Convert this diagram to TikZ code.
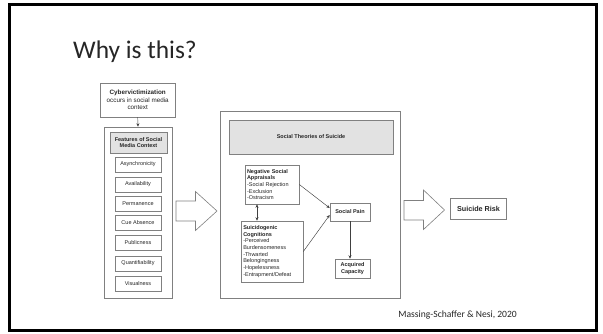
\documentclass[tikz,border=0pt]{standalone}
\usepackage{fontspec}
\setmainfont{Carlito}
\newfontfamily\arialf{Liberation Sans}
\usetikzlibrary{arrows.meta}
\definecolor{boxline}{HTML}{808080}
\definecolor{hdrfill}{HTML}{E2E2E2}
\definecolor{txt}{HTML}{262626}
\definecolor{lnk}{HTML}{404040}
\tikzset{
  box/.style={draw=boxline, line width=0.65pt, fill=white, inner sep=0pt, text=txt, align=center, font=\arialf\fontsize{5.5}{6.7}\selectfont},
  hdr/.style={box, fill=hdrfill},
  item/.style={box, minimum width=46pt, minimum height=15pt},
  lbox/.style={box, align=left, inner sep=0pt},
  conn/.style={draw=lnk, line width=0.45pt, -{Stealth[length=3.4pt,width=3pt]}},
  dconn/.style={draw=lnk, line width=0.45pt, {Stealth[length=3.4pt,width=3pt]}-{Stealth[length=3.4pt,width=3pt]}},
  bigarrow/.style={draw=boxline, line width=0.6pt, fill=white},
}
\begin{document}
\begin{tikzpicture}[x=1pt,y=-1pt]
\useasboundingbox (0,0) rectangle (603,333);
\fill[white] (0,0) rectangle (603,333);
\draw[black, line width=3pt] (9,4) rectangle (596.5,330.5);

% title
\node[anchor=base west, inner sep=0pt, text=txt, font=\fontsize{25.4}{30}\selectfont] (title) at (73,58.3) {Why is this?};

% left column
\node[box, minimum width=74.5pt, minimum height=34pt, font=\arialf\fontsize{6.3}{7.5}\selectfont] (cyber) at (137.7,100) {\textbf{Cybervictimization}\\occurs in social media\\context};
\node[box, minimum width=68pt, minimum height=171pt] (feat) at (138,212.5) {};
\node[hdr, minimum width=57pt, minimum height=21pt] (fhdr) at (138.5,142.5) {\textbf{Features of Social}\\\textbf{Media Context}};
\node[item] (i1) at (138,164.5) {Asynchronicity};
\node[item] (i2) at (138,184.5) {Availability};
\node[item] (i3) at (138,203.5) {Permanence};
\node[item] (i4) at (138,222.5) {Cue Absence};
\node[item] (i5) at (138,242.5) {Publicness};
\node[item] (i6) at (138,263.5) {Quantifiability};
\node[item] (i7) at (138,283.5) {Visualness};
\draw[conn] (cyber.south) -- (feat.north);

% big arrow 1
\draw[bigarrow] (176,201) -- (195.5,201) -- (195.5,191.5) -- (217,211) -- (195.5,230.5) -- (195.5,221) -- (176,221) -- cycle;

% middle box
\node[box, minimum width=180.5pt, minimum height=187pt] (mid) at (310.25,204.5) {};
\node[hdr, minimum width=164pt, minimum height=34pt] (mhdr) at (311,137) {\textbf{Social Theories of Suicide}};
\node[lbox, minimum width=54pt, minimum height=39pt, text width=50pt] (nsa) at (272,184.5) {\textbf{Negative Social}\\\textbf{Appraisals}\\-Social Rejection\\-Exclusion\\-Ostracism};
\node[lbox, minimum width=61.5pt, minimum height=61pt, text width=58pt] (sg) at (272.25,251.5) {\textbf{Suicidogenic}\\\textbf{Cognitions}\\-Perceived\\Burdensomeness\\-Thwarted\\Belongingness\\-Hopelessness\\-Entrapment/Defeat};
\node[box, minimum width=40pt, minimum height=18pt] (sp) at (350,212) {\textbf{Social Pain}};
\node[box, minimum width=35pt, minimum height=19pt] (ac) at (352.5,268.5) {\textbf{Acquired}\\\textbf{Capacity}};
\draw[conn] (nsa.east) -- ([yshift=4pt]sp.west);
\draw[conn] (sg.east) -- ([yshift=-3pt]sp.west);
\draw[dconn] ([xshift=-15pt]nsa.south) -- ([xshift=-15.25pt]sg.north);
\draw[conn] (sp.south) -- (sp.south |- ac.north);

% big arrow 2
\draw[bigarrow] (404,200.5) -- (423.5,200.5) -- (423.5,190) -- (444.5,210) -- (423.5,229.5) -- (423.5,220) -- (404,220) -- cycle;
\node[box, minimum width=56.5pt, minimum height=21pt, font=\arialf\fontsize{7.2}{8}\selectfont] (risk) at (478.5,209) {\textbf{Suicide Risk}};

% citation
\node[anchor=base east, inner sep=0pt, text=txt, font=\fontsize{9.6}{11}\selectfont] (cite) at (517,317.5) {Massing-Schaffer \& Nesi, 2020};
\end{tikzpicture}
\end{document}
